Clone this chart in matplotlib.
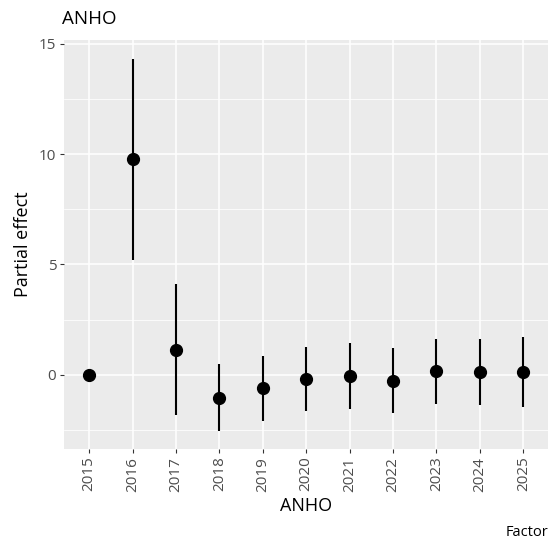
import matplotlib.pyplot as plt
import numpy as np

plt.rcParams['font.family'] = ['Open Sans', 'DejaVu Sans']

# partial effect of each year level, with interval bounds
years = ['2015', '2016', '2017', '2018', '2019', '2020',
         '2021', '2022', '2023', '2024', '2025']
effect = [0.0, 9.77, 1.14, -1.03, -0.59, -0.19, -0.05, -0.26, 0.17, 0.15, 0.15]
upper = [0.0, 14.3, 4.12, 0.48, 0.86, 1.28, 1.43, 1.20, 1.61, 1.61, 1.70]
lower = [0.0, 5.2, -1.81, -2.53, -2.07, -1.65, -1.54, -1.73, -1.31, -1.37, -1.43]

fig = plt.figure(figsize=(5.5, 5.41), dpi=100)
W, H = 550, 541
ax = fig.add_axes([64 / W, (H - 449) / H, (548 - 64) / W, (449 - 40) / H])

ax.set_facecolor('#EBEBEB')
for s in ax.spines.values():
    s.set_visible(False)

x = np.arange(len(years))
ax.set_xlim(-0.58, len(years) - 0.43)
ax.set_ylim(-3.35, 15.16)

# grid: major + minor in white, ggplot style
ax.set_yticks([0, 5, 10, 15])
ax.set_yticks([-2.5, 2.5, 7.5, 12.5], minor=True)
ax.set_xticks(x)
ax.set_xticklabels(years, rotation=90)
ax.grid(which='major', color='white', linewidth=1.1)
ax.grid(which='minor', axis='y', color='white', linewidth=0.55)
ax.set_axisbelow(True)

ax.tick_params(which='major', length=3, width=0.8, color='#333333',
               labelcolor='#4D4D4D', labelsize=11, pad=2.5)
ax.tick_params(which='minor', length=0)

# intervals then points
ax.vlines(x, lower, upper, color='black', linewidth=1.5)
ax.plot(x, effect, 'o', color='black', markersize=8.5, linestyle='none')

ax.set_ylabel('Partial effect', fontsize=13, color='black', labelpad=5)
ax.set_xlabel('ANHO', fontsize=13, color='black', labelpad=4)
fig.text(62 / W, 1 - 19 / H, 'ANHO', fontsize=13.5, va='center', ha='left')
fig.text(548 / W, 1 - 532 / H, 'Factor', fontsize=10.5, va='center', ha='right')

fig.savefig('out.png', dpi=100)
